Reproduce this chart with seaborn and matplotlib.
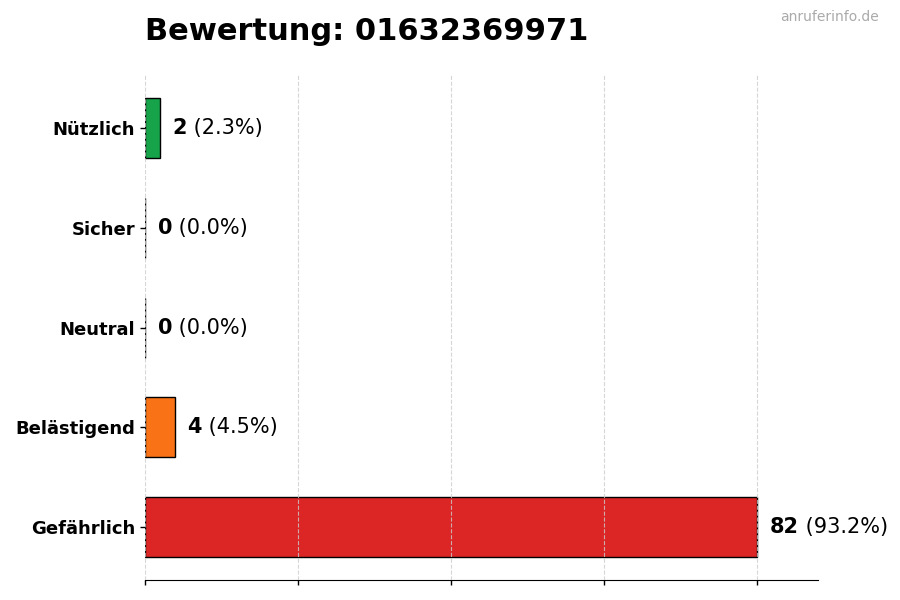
import matplotlib
matplotlib.use("Agg")
import matplotlib.pyplot as plt
import numpy as np
import pandas as pd
import seaborn as sns

# data
categories = ["Nützlich", "Sicher", "Neutral", "Belästigend", "Gefährlich"]
counts = [2, 0, 0, 4, 82]
colors = ["#16a34a", "#22c55e", "#9ca3af", "#f97316", "#dc2626"]
title = "Bewertung: 01632369971"
watermark = "anruferinfo.de"

total = sum(counts)
df = pd.DataFrame({"Kategorie": categories, "Anzahl": counts})

sns.set_style("white")
plt.rcParams["font.family"] = ["DejaVu Sans"]
plt.rcParams["text.color"] = "black"
plt.rcParams["xtick.color"] = "black"
plt.rcParams["ytick.color"] = "black"

fig, ax = plt.subplots(figsize=(9, 6), dpi=100)
fig.subplots_adjust(left=0.161, right=0.909, top=0.875, bottom=0.033)

sns.barplot(data=df, x="Anzahl", y="Kategorie", hue="Kategorie",
            palette=colors, saturation=1, orient="h", width=0.6,
            edgecolor="black", linewidth=1, legend=False, ax=ax)

vmax = max(counts)
ax.set_xlim(0, vmax * 1.1)
ax.set_ylim(len(categories) - 1 + 0.53, -0.53)
ax.set_xticks(np.linspace(0, vmax, 5))
ax.set_xticklabels([])
ax.set_xlabel("")
ax.set_ylabel("")
ax.grid(axis="x", linestyle="--", color="#cccccc", alpha=0.8, linewidth=0.8)
ax.set_axisbelow(False)
ax.tick_params(axis="both", which="both", length=3.5, width=1, bottom=True, left=True,
               color="black", labelcolor="black")
for lbl in ax.get_yticklabels():
    lbl.set_fontweight("bold")
    lbl.set_fontsize(13)

for side in ["top", "right", "left"]:
    ax.spines[side].set_visible(False)
ax.spines["bottom"].set_color("black")

for i, c in enumerate(counts):
    pct = c / total * 100
    t = ax.text(c + vmax * 0.021, i, f"{c}", fontsize=15, fontweight="bold",
                va="center", ha="left", color="black")
    ax.annotate(f" ({pct:.1f}%)", xy=(1, 0.5), xycoords=t, fontsize=15,
                va="center", ha="left", color="black")

fig.text(0.161, 0.948, title, fontsize=22, fontweight="bold", ha="left",
         va="center", color="black")
fig.text(0.976, 0.972, watermark, fontsize=10, color="#aaaaaa", ha="right", va="center")

fig.savefig("out.png", dpi=100)
